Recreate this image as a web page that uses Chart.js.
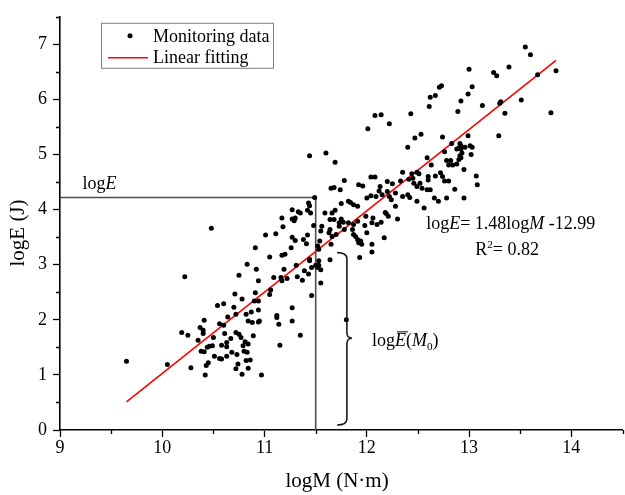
<!DOCTYPE html>
<html>
<head>
<meta charset="utf-8">
<script src="https://cdn.jsdelivr.net/npm/chart.js@4.4.0/dist/chart.umd.min.js"></script>
<style>
  html, body { margin: 0; padding: 0; background: #fff; }
</style>
</head>
<body>
<canvas id="myChart" width="625" height="495"></canvas>
<script>
// monitoring data, logM (N·m) and logE (J)
const logM = [
    9.65,10.05,10.22,10.19,10.25,10.28,10.35,10.37,10.40,10.40,
    10.41,10.38,10.41,10.42,10.43,10.45,10.44,10.46,10.49,10.50,
    10.51,10.54,10.56,10.58,10.56,10.58,10.60,10.60,10.61,10.63,
    10.63,10.63,10.64,10.67,10.68,10.70,10.71,10.72,10.72,10.72,
    10.73,10.74,10.75,10.75,10.77,10.78,10.78,10.79,10.80,10.81,
    10.82,10.82,10.83,10.84,10.83,10.84,10.84,10.86,10.87,10.88,
    10.89,10.90,10.91,10.91,10.92,10.94,10.94,10.94,10.94,10.95,
    10.97,11.01,11.05,11.05,11.06,11.09,11.11,11.12,11.12,11.14,
    11.15,11.16,11.17,11.17,11.19,11.20,11.22,11.26,11.27,11.27,
    11.27,11.30,11.31,11.32,11.35,11.37,11.38,11.39,11.41,11.42,
    11.43,11.44,11.44,11.46,11.46,11.50,
    10.48,11.44,11.49,11.43,11.44,11.27,11.33,11.35,11.42,11.45,
    11.17,11.27,11.30,11.29,11.18,11.48,
    11.78,12.04,12.08,12.20,12.25,12.33,12.41,12.46,12.49,11.65,
    11.68,11.74,11.92,11.96,12.13,12.12,12.04,12.00,12.09,12.15,
    12.20,12.22,12.24,12.28,12.28,12.35,12.40,12.42,12.49,11.82,
    11.84,11.87,11.91,11.75,11.69,11.66,11.59,11.68,11.64,11.75,
    11.77,11.73,11.73,11.82,11.87,11.91,11.98,11.99,12.06,12.05,
    12.00,12.10,12.14,12.18,12.19,12.21,12.30,12.17,11.56,11.55,
    11.63,11.64,11.66,11.70,11.78,11.86,11.87,11.91,11.94,11.92,
    11.95,12.05,12.05,11.93,11.54,11.53,11.65,11.64,11.53,11.55,
    11.52,11.55,11.53,11.80,11.52,11.89,
    13.55,13.60,13.85,13.67,13.80,13.51,13.35,13.39,13.24,13.27,
    13.30,13.31,13.29,13.13,13.00,13.03,12.99,12.92,12.89,12.73,
    12.71,12.67,12.62,12.61,12.43,12.22,12.14,12.08,12.01,12.53,
    12.47,12.40,12.74,12.99,12.83,13.01,13.02,12.92,12.92,12.90,
    12.96,12.93,12.92,12.88,12.76,12.59,12.63,12.78,12.82,12.84,
    12.88,12.90,12.95,12.80,13.07,13.08,11.60,11.69,
    12.35,12.44,12.49,12.45,12.91,13.03,12.91,12.51,12.60,12.60,
    12.67,12.72,12.74,12.76,12.80,12.52,12.54,12.59,12.62,12.86,
    12.66,12.70,12.78,12.95,12.56
];
const logE = [
    1.25,1.19,2.78,1.77,1.72,1.13,1.63,1.86,1.81,1.75,
    1.99,1.43,1.42,1.00,1.17,1.22,1.50,1.52,1.53,1.68,
    1.34,2.26,1.93,1.54,1.30,1.29,2.29,1.90,1.75,1.59,
    1.51,1.34,2.05,1.66,1.41,2.23,2.47,2.10,1.77,1.11,
    1.37,1.20,2.81,1.74,1.68,2.38,1.01,1.53,1.43,1.60,
    2.10,1.26,3.01,1.98,1.41,1.12,1.56,1.27,2.14,1.95,
    1.71,2.34,2.49,3.31,2.92,2.71,2.34,2.18,1.96,1.98,
    1.00,3.54,3.14,2.46,2.54,2.77,3.56,2.08,2.04,1.92,
    1.54,2.77,3.17,2.71,2.92,3.19,2.75,3.31,3.50,2.22,
    1.98,3.44,2.99,2.78,1.72,2.72,3.46,2.89,3.38,3.54,
    2.83,3.10,3.07,2.44,2.95,2.99,
    3.66,4.98,4.22,4.12,4.07,4.00,3.96,3.94,3.99,3.94,
    3.85,3.83,3.85,3.80,3.69,3.71,
    4.53,4.59,4.59,4.51,4.47,4.52,4.55,4.48,4.42,4.39,
    4.40,4.36,4.45,4.43,4.42,4.34,4.25,4.21,4.24,4.27,
    4.33,4.24,4.18,4.30,4.06,4.24,4.27,4.22,4.15,4.15,
    4.13,4.09,4.06,4.11,3.99,3.94,3.94,3.82,3.82,3.83,
    3.77,3.76,3.70,3.76,3.73,3.79,3.71,3.88,3.85,3.76,
    3.58,3.73,3.77,3.95,3.93,3.88,3.83,3.49,3.70,3.61,
    3.58,3.64,3.51,3.55,3.64,3.64,3.55,3.46,3.43,3.40,
    3.37,3.37,3.23,3.13,3.43,3.28,3.37,3.09,3.07,2.91,
    2.95,2.67,2.99,2.00,3.34,3.51,
    6.95,6.81,6.52,6.45,5.76,5.99,5.75,6.59,6.49,6.43,
    5.93,5.96,5.34,5.89,6.55,6.23,6.10,5.97,5.78,6.25,
    6.22,6.07,6.04,5.87,5.74,5.56,5.72,5.71,5.47,5.37,
    5.30,5.13,5.32,5.34,5.20,5.16,5.00,5.16,5.10,5.12,
    5.13,5.03,4.94,5.10,5.05,4.94,4.81,4.89,4.89,4.81,
    4.83,4.91,4.73,4.81,4.61,4.45,5.03,4.86,
    4.68,4.65,4.68,4.57,5.20,5.13,4.98,4.65,4.60,4.54,
    4.61,4.67,4.60,4.52,4.52,4.48,4.39,4.36,4.36,4.37,
    4.21,4.15,4.21,4.21,4.03
];

// fitted line end points (as drawn)
const fitM = [9.65, 13.85];
const fitE = [0.51, 6.71];

// reference point M0 / logE
const refM = 11.5;
const refE = 4.22;
const braceTop = 3.22;   // fitted logE at M0

const serif = '"Liberation Serif", "Times New Roman", serif';

function isWhole(v) {
    return Math.abs(v - Math.round(v)) < 1e-6;
}

// draw a row of text pieces (normal / italic / sup / sub / overline)
function runText(ctx, x, y, parts, size) {
    parts.forEach(p => {
        const s = (p.sup || p.sub) ? size * 0.62 : size;
        ctx.font = (p.it ? 'italic ' : '') + s + 'px ' + serif;
        const dy = p.sup ? -size * 0.4 : (p.sub ? size * 0.22 : 0);
        ctx.fillText(p.t, x, y + dy);
        const w = ctx.measureText(p.t).width;
        if (p.bar) {
            ctx.beginPath();
            ctx.lineWidth = 1;
            ctx.moveTo(x + 2, y - size * 0.8);
            ctx.lineTo(x + w + 2, y - size * 0.8);
            ctx.stroke();
        }
        x += w;
    });
}

const annotate = {
    id: 'annotate',
    afterDraw(chart) {
        const { ctx, chartArea: a, scales: { x, y } } = chart;
        ctx.save();
        ctx.fillStyle = '#000';
        ctx.strokeStyle = '#000';

        // minor ticks (shorter)
        ctx.lineWidth = 1.3;
        ctx.beginPath();
        x.ticks.forEach(t => {
            if (!isWhole(t.value)) {
                const px = Math.round(x.getPixelForValue(t.value)) + 0.5;
                ctx.moveTo(px, a.bottom);
                ctx.lineTo(px, a.bottom + 4);
            }
        });
        y.ticks.forEach(t => {
            if (!isWhole(t.value)) {
                const py = Math.round(y.getPixelForValue(t.value)) + 0.5;
                ctx.moveTo(a.left, py);
                ctx.lineTo(a.left - 4, py);
            }
        });
        ctx.stroke();

        // brace for logE(M0)
        const xL = x.getPixelForValue(11.71);
        const xS = x.getPixelForValue(11.805);
        const xC = x.getPixelForValue(11.855);
        const yT = y.getPixelForValue(braceTop);
        const yM = y.getPixelForValue(1.665);
        const yB = y.getPixelForValue(0.09);
        const r = 6;
        ctx.lineWidth = 1.6;
        ctx.strokeStyle = '#1a1a1a';
        ctx.beginPath();
        ctx.moveTo(xL, yT);
        ctx.quadraticCurveTo(xS, yT, xS, yT + r);
        ctx.lineTo(xS, yM - r);
        ctx.quadraticCurveTo(xS, yM, xC, yM);
        ctx.quadraticCurveTo(xS, yM, xS, yM + r);
        ctx.lineTo(xS, yB - r);
        ctx.quadraticCurveTo(xS, yB, xL, yB);
        ctx.stroke();
        ctx.strokeStyle = '#000';

        // annotation texts
        ctx.textBaseline = 'alphabetic';
        ctx.textAlign = 'left';
        runText(ctx, x.getPixelForValue(9.22), y.getPixelForValue(4.37),
            [{ t: 'log' }, { t: 'E', it: true }], 18);
        runText(ctx, x.getPixelForValue(12.58), y.getPixelForValue(3.64),
            [{ t: 'log' }, { t: 'E', it: true }, { t: '= 1.48log' }, { t: 'M', it: true }, { t: ' -12.99' }], 18);
        runText(ctx, x.getPixelForValue(13.06), y.getPixelForValue(3.17),
            [{ t: 'R' }, { t: '2', sup: true }, { t: '= 0.82' }], 18);
        runText(ctx, x.getPixelForValue(12.05), y.getPixelForValue(1.52),
            [{ t: 'log' }, { t: 'E', it: true, bar: true }, { t: '(' }, { t: 'M', it: true }, { t: '0', sub: true }, { t: ')' }], 18);

        // axis titles
        ctx.font = '21px ' + serif;
        ctx.textAlign = 'center';
        ctx.textBaseline = 'middle';
        ctx.fillText('logM (N·m)', 337, 481);
        ctx.save();
        ctx.translate(18, 233);
        ctx.rotate(-Math.PI / 2);
        ctx.fillText('logE (J)', 0, 0);
        ctx.restore();

        // legend
        const lx = a.left + 41, ly = a.top + 6;
        ctx.fillStyle = '#fff';
        ctx.fillRect(lx, ly, 172, 45);
        ctx.strokeStyle = '#808080';
        ctx.lineWidth = 1;
        ctx.strokeRect(lx + 0.5, ly + 0.5, 172, 45);
        ctx.fillStyle = '#000';
        ctx.beginPath();
        ctx.arc(lx + 29, ly + 13, 2.5, 0, Math.PI * 2);
        ctx.fill();
        ctx.strokeStyle = '#ff0000';
        ctx.lineWidth = 1.6;
        ctx.beginPath();
        ctx.moveTo(lx + 7, ly + 35);
        ctx.lineTo(lx + 47, ly + 35);
        ctx.stroke();
        ctx.font = '18px ' + serif;
        ctx.textAlign = 'left';
        ctx.textBaseline = 'alphabetic';
        ctx.fillText('Monitoring data', lx + 52, ly + 19);
        ctx.fillText('Linear fitting', lx + 52, ly + 40);

        ctx.restore();
    }
};

const ctx = document.getElementById('myChart').getContext('2d');
const myChart = new Chart(ctx, {
    type: 'scatter',
    data: {
        datasets: [{
            label: 'Monitoring data',
            data: logM.map((m, i) => ({ x: m, y: logE[i] })),
            backgroundColor: '#000',
            borderWidth: 0,
            pointRadius: 2.5,
            pointHoverRadius: 2.5
        },
        {
            label: 'Linear fitting',
            data: fitM.map((m, i) => ({ x: m, y: fitE[i] })),
            showLine: true,
            borderColor: '#ff0000',
            borderWidth: 1.6,
            pointRadius: 0
        },
        {
            label: 'guide',
            data: [{ x: 9, y: refE }, { x: refM, y: refE }, { x: refM, y: 0 }],
            showLine: true,
            borderColor: '#4d4d4d',
            borderWidth: 1.6,
            pointRadius: 0
        }]
    },
    options: {
        responsive: false,
        animation: false,
        devicePixelRatio: 1,
        layout: {
            padding: { top: 11, right: 1, left: 0, bottom: 0 }
        },
        plugins: {
            legend: { display: false },
            tooltip: { enabled: false }
        },
        scales: {
            x: {
                type: 'linear',
                min: 9,
                max: 14.5,
                afterFit: s => { s.height = 65; },
                border: { display: true, color: '#000', width: 1.6 },
                grid: {
                    drawOnChartArea: false,
                    tickLength: 7,
                    tickWidth: 1.3,
                    tickColor: c => isWhole(c.tick.value) ? '#000' : 'rgba(0,0,0,0)'
                },
                ticks: {
                    stepSize: 0.5,
                    autoSkip: false,
                    maxRotation: 0,
                    padding: 0,
                    color: '#000',
                    font: { family: serif, size: 18 },
                    callback: v => isWhole(v) ? v : ''
                }
            },
            y: {
                min: 0,
                max: 7.5,
                afterFit: s => { s.width = 60; },
                border: { display: true, color: '#000', width: 1.6 },
                grid: {
                    drawOnChartArea: false,
                    tickLength: 7,
                    tickWidth: 1.3,
                    tickColor: c => isWhole(c.tick.value) ? '#000' : 'rgba(0,0,0,0)'
                },
                ticks: {
                    stepSize: 0.5,
                    autoSkip: false,
                    padding: 6,
                    color: '#000',
                    font: { family: serif, size: 18 },
                    callback: v => isWhole(v) ? v : ''
                }
            }
        }
    },
    plugins: [annotate]
});
</script>
</body>
</html>
